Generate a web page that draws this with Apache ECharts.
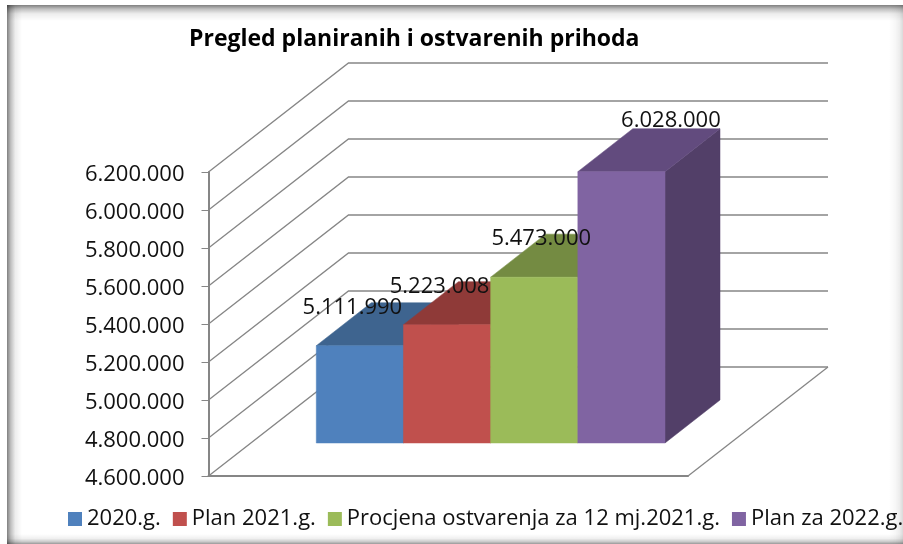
<!DOCTYPE html>
<html>
<head>
<meta charset="utf-8">
<style>html,body{margin:0;padding:0;background:#fff}#c{width:903px;height:544px}</style>
<script src="https://cdn.jsdelivr.net/npm/echarts@6/dist/echarts.min.js"></script>
</head>
<body>
<div id="c"></div>
<script>
const chartTitle = 'Pregled planiranih i ostvarenih prihoda';
const categories = ['Prihodi'];
const seriesNames = ['2020.g.', 'Plan 2021.g.', 'Procjena ostvarenja za 12 mj.2021.g.', 'Plan za 2022.g.'];
const seriesValues = [5111990, 5223008, 5473000, 6028000];
const axisTicks = [4600000, 4800000, 5000000, 5200000, 5400000, 5600000, 5800000, 6000000, 6200000];

const frontColors = ['#4F81BD', '#C0504D', '#9BBB59', '#8064A2'];
const topColors = ['#3E648F', '#8F3A38', '#748B42', '#624B7E'];
const sideColors = ['#335273', '#752F2D', '#5E7035', '#523F68'];
const labelNudge = [[-7.5, -38], [-7.5, -38], [7, -38], [49.5, -51]];

const FONT = '"Open Sans", sans-serif';
const GRID = '#868686';
const WALL = [140, 109];      // depth of the floor
const BAR_INSET = [42.4, 33]; // front plane of the bars
const BAR_DEPTH = [55, 43];   // depth of each bar
const GAP_WIDTH = 1.5;        // gap as a share of one bar

const fmt = v => String(v).replace(/\B(?=(\d{3})+$)/g, '.');

function renderWall(params, api) {
  const cs = params.coordSys;
  const y = api.coord([0, api.value(1)])[1];
  const r = cs.x + cs.width;
  const children = [{
    type: 'polyline',
    shape: { points: [[cs.x, y], [cs.x + WALL[0], y - WALL[1]], [r + WALL[0], y - WALL[1]]] },
    style: { stroke: GRID, lineWidth: 1.3, fill: null }
  }];
  if (params.dataIndex === 0) {
    children.push({
      type: 'line',
      shape: { x1: r, y1: y, x2: r + WALL[0], y2: y - WALL[1] },
      style: { stroke: GRID, lineWidth: 1.3 }
    });
  }
  return { type: 'group', children };
}

function renderBar(idx) {
  return function (params, api) {
    const base = api.coord([0, axisTicks[0]]);
    const top = api.coord([0, api.value(1)]);
    const band = api.size([1, 0])[0];
    const w = band / (seriesNames.length + GAP_WIDTH);
    const x0 = base[0] - w * seriesNames.length / 2 + idx * w + BAR_INSET[0];
    const x1 = x0 + w;
    const yB = base[1] - BAR_INSET[1];
    const yT = top[1] - BAR_INSET[1];
    const [dx, dy] = BAR_DEPTH;
    const poly = (points, fill) => ({
      type: 'polygon', shape: { points },
      style: { fill, stroke: fill, lineWidth: 0.5 }
    });
    return {
      type: 'group',
      children: [
        poly([[x1, yT], [x1 + dx, yT - dy], [x1 + dx, yB - dy], [x1, yB]], sideColors[idx]),
        poly([[x0, yT], [x1, yT], [x1 + dx, yT - dy], [x0 + dx, yT - dy]], topColors[idx]),
        poly([[x0, yT], [x1, yT], [x1, yB], [x0, yB]], frontColors[idx]),
        {
          type: 'text', z2: 100,
          style: {
            x: (x0 + x1) / 2 + labelNudge[idx][0],
            y: yT + labelNudge[idx][1],
            text: fmt(api.value(1)),
            align: 'center', verticalAlign: 'middle',
            font: '22px ' + FONT, fill: '#111'
          }
        }
      ]
    };
  };
}

const gradRect = (x, y, width, height, x2, y2, stops) => ({
  type: 'rect', silent: true, shape: { x, y, width, height },
  style: { fill: { type: 'linear', x: 0, y: 0, x2, y2, colorStops: stops } }
});
const fade = (a, b, c) => [
  { offset: 0, color: `rgba(0,0,0,${a})` },
  { offset: 0.25, color: `rgba(0,0,0,${b})` },
  { offset: 0.55, color: `rgba(0,0,0,${c})` },
  { offset: 1, color: 'rgba(0,0,0,0)' }
];
const fadeRev = (a, b, c) => fade(a, b, c).map(s => ({ offset: 1 - s.offset, color: s.color })).reverse();

const chart = echarts.init(document.getElementById('c'), null, { renderer: 'canvas' });
chart.setOption({
  animation: false,
  backgroundColor: '#fff',
  title: {
    text: chartTitle, left: 184, top: 23,
    textStyle: { fontFamily: FONT, fontWeight: 'bold', fontSize: 23, color: '#000' }
  },
  legend: {
    left: 68, top: 508, padding: 0, width: 1000, itemWidth: 14, itemHeight: 14, itemGap: 12,
    icon: 'rect', data: seriesNames,
    textStyle: { fontFamily: FONT, fontSize: 22, color: '#111' }
  },
  grid: { left: 208.5, right: 215, top: 172, bottom: 68 },
  xAxis: {
    type: 'category', data: categories,
    axisLine: { show: true, lineStyle: { color: GRID, width: 2 } },
    axisTick: { show: false }, axisLabel: { show: false }
  },
  yAxis: {
    type: 'value', min: 4600000, max: 6200000, interval: 200000,
    axisLine: { show: true, lineStyle: { color: GRID, width: 2 } },
    axisTick: { show: true, length: 7, lineStyle: { color: GRID, width: 1 } },
    axisLabel: { margin: 24, verticalAlign: 'top', padding: [-8, 0, 0, 0], formatter: fmt, fontFamily: FONT, fontSize: 22, color: '#111' },
    splitLine: { show: false }
  },
  graphic: [
    gradRect(7, 5, 15, 539, 1, 0, fade(0.5, 0.25, 0.07)),
    gradRect(7, 5, 896, 16, 0, 1, fade(0.5, 0.25, 0.07)),
    gradRect(889, 5, 14, 539, 1, 0, fadeRev(0.15, 0.07, 0.03)),
    gradRect(7, 534, 896, 10, 0, 1, fadeRev(0.4, 0.2, 0.06))
  ],
  series: [
    {
      type: 'custom', name: 'walls', silent: true, clip: false, z: 1,
      data: axisTicks.map(t => [0, t]), encode: { x: 0, y: 1 }, renderItem: renderWall
    }
  ].concat(seriesNames.map((name, i) => ({
    type: 'custom', name, silent: true, clip: false, z: 3,
    itemStyle: { color: frontColors[i] },
    data: [[0, seriesValues[i]]], encode: { x: 0, y: 1 },
    renderItem: renderBar(i)
  })))
});
</script>
</body>
</html>
